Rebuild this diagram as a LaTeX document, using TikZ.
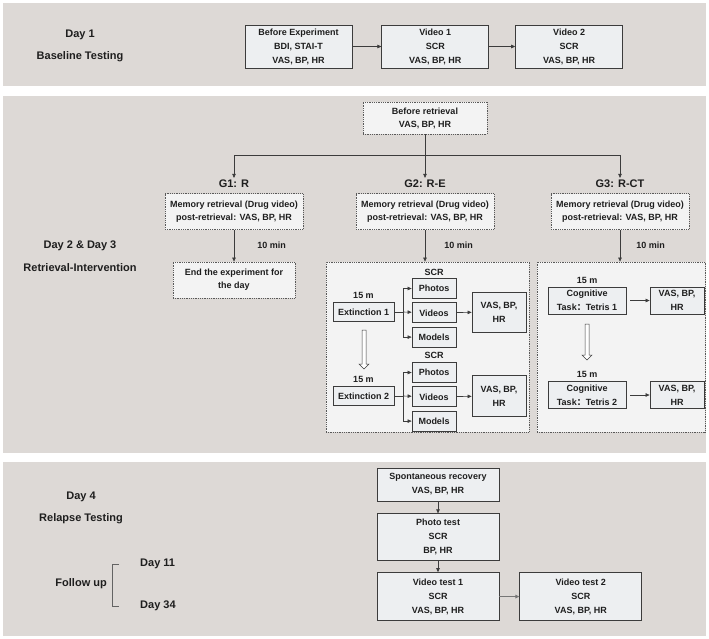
\documentclass[tikz,border=0pt]{standalone}
\usepackage{fontspec}
\setmainfont{Liberation Sans}
\newfontfamily\cjk{Noto Sans CJK SC}
\usetikzlibrary{arrows.meta, positioning, calc}
\definecolor{panelbg}{HTML}{DDD9D6}
\definecolor{boxfill}{HTML}{EDEFF1}
\definecolor{dotfill}{HTML}{F3F3F3}
\definecolor{edge}{HTML}{3C3C3C}
\definecolor{ink}{HTML}{1E1E1E}
\tikzset{
  panel/.style={fill=panelbg, draw=none},
  sbox/.style={rectangle, draw=edge, fill=boxfill, line width=0.8pt, inner sep=0pt,
               align=center, text=ink, font=\bfseries\fontsize{9}{14}\selectfont},
  dbox/.style={rectangle, draw=edge!85, densely dotted, fill=dotfill, line width=0.8pt,
               inner sep=0pt, align=center, text=ink, font=\bfseries\fontsize{9}{13}\selectfont},
  daylbl/.style={font=\bfseries\fontsize{11}{13}\selectfont, text=ink, inner sep=0pt},
  grplbl/.style={font=\bfseries\fontsize{11}{13}\selectfont, text=ink, inner sep=2pt},
  note/.style={font=\bfseries\fontsize{9}{11}\selectfont, text=ink, inner sep=1pt},
  arr/.style={-{Triangle[length=4pt, width=3.5pt]}, line width=0.6pt, draw=edge},
  link/.style={line width=0.6pt, draw=edge},
  brk/.style={line width=0.6pt, draw=edge!80},
  hollow/.style={draw=edge, fill=white, line width=0.5pt,
    to path={let \p1=(\tikztostart), \p2=(\tikztotarget) in
      (\x1-2pt,\y1) -- (\x1-2pt,\y2+5pt) -- (\x1-5pt,\y2+5pt) -- (\x2,\y2)
      -- (\x1+5pt,\y2+5pt) -- (\x1+2pt,\y2+5pt) -- (\x1+2pt,\y1) -- cycle}},
}

\begin{document}
\begin{tikzpicture}[x=1pt, y=-1pt]
  \useasboundingbox (0,0) rectangle (709,638);

  % Panels
  \fill[panel] (3,3) rectangle (706,86);
  \fill[panel] (3,96) rectangle (706,453);
  \fill[panel] (3,462) rectangle (706,636);

  % Day 1
  \node[daylbl] (day1) at (80,35) {Day 1};
  \node[daylbl] (day1t) at (80,57) {Baseline Testing};
  \node[sbox, minimum width=107pt, minimum height=43pt] (bexp) at (298.5,46.5)
    {Before Experiment\\BDI, STAI-T\\VAS, BP, HR};
  \node[sbox, minimum width=107pt, minimum height=43pt, right=29pt of bexp] (vid1)
    {Video 1\\SCR\\VAS, BP, HR};
  \node[sbox, minimum width=107pt, minimum height=43pt, right=26pt of vid1] (vid2)
    {Video 2\\SCR\\VAS, BP, HR};
  \draw[arr] (bexp) -- (vid1);
  \draw[arr] (vid1) -- (vid2);

  % Day 2 & Day 3
  \node[daylbl] (day23) at (80,246) {Day 2 \& Day 3};
  \node[daylbl] (day23t) at (80,268) {Retrieval-Intervention};
  \node[dbox, minimum width=124pt, minimum height=32pt] (bret) at (425,118)
    {Before retrieval\\VAS, BP, HR};
  \coordinate (split) at (425,155);
  \node[grplbl] (g1) at (234,184) {G1: R};
  \node[grplbl] (g2) at (425,184) {G2: R-E};
  \node[grplbl] (g3) at (620,184) {G3: R-CT};
  \draw[link] (bret) -- (split);
  \draw[arr] (split) -| (g1);
  \draw[arr] (split) -- (g2);
  \draw[arr] (split) -| (g3);

  \node[dbox, minimum width=138pt, minimum height=36pt] (mem1) at (234,211.5)
    {Memory retrieval (Drug video)\\post-retrieval: VAS, BP, HR};
  \node[dbox, minimum width=138pt, minimum height=36pt] (mem2) at (425,211.5)
    {Memory retrieval (Drug video)\\post-retrieval: VAS, BP, HR};
  \node[dbox, minimum width=138pt, minimum height=36pt] (mem3) at (620,211.5)
    {Memory retrieval (Drug video)\\post-retrieval: VAS, BP, HR};

  % G1
  \node[dbox, minimum width=122pt, minimum height=36pt] (endday) at (234,280)
    {End the experiment for\\the day};
  \draw[arr] (mem1) -- node[note, right=22pt] {10 min} (endday);

  % G2 - box in box
  \node[dbox, minimum width=203pt, minimum height=170pt] (extbox) at (427.5,347) {};
  \draw[arr] (mem2) -- node[note, right=18pt] {10 min} (mem2 |- extbox.north);

  \node[note] (scr1) at (434,272) {SCR};
  \node[sbox, minimum width=44pt, minimum height=20pt] (ph1) at (434,288.5) {Photos};
  \node[sbox, minimum width=44pt, minimum height=20pt, below=3.5pt of ph1] (vd1) {Videos};
  \node[sbox, minimum width=44pt, minimum height=20pt, below=3.5pt of vd1] (md1) {Models};
  \node[sbox, minimum width=61pt, minimum height=19pt] (ext1) at (363.5,312) {Extinction 1};
  \node[note, above=2pt of ext1] (len1) {15 m};
  \node[sbox, minimum width=54pt, minimum height=40pt] (vas1) at (499,312) {VAS, BP,\\HR};
  \coordinate (br1) at (403,312);
  \draw[link] (ext1) -- (br1);
  \draw[arr] (br1) |- (ph1);
  \draw[arr] (br1) -- (vd1);
  \draw[arr] (br1) |- (md1);
  \draw[arr] (vd1) -- (vas1);

  \coordinate (h1a) at (364,330);
  \coordinate (h1b) at (364,369);
  \draw[hollow] (h1a) to (h1b);

  \node[note] (scr2) at (434,355) {SCR};
  \node[sbox, minimum width=44pt, minimum height=20pt] (ph2) at (434,372.5) {Photos};
  \node[sbox, minimum width=44pt, minimum height=20pt, below=3.5pt of ph2] (vd2) {Videos};
  \node[sbox, minimum width=44pt, minimum height=20pt, below=3.5pt of vd2] (md2) {Models};
  \node[sbox, minimum width=61pt, minimum height=19pt] (ext2) at (363.5,396) {Extinction 2};
  \node[note, above=2pt of ext2] (len2) {15 m};
  \node[sbox, minimum width=54pt, minimum height=41pt] (vas2) at (499,396) {VAS, BP,\\HR};
  \coordinate (br2) at (403,396);
  \draw[link] (ext2) -- (br2);
  \draw[arr] (br2) |- (ph2);
  \draw[arr] (br2) -- (vd2);
  \draw[arr] (br2) |- (md2);
  \draw[arr] (vd2) -- (vas2);

  % G3 - box in box
  \node[dbox, minimum width=168pt, minimum height=170pt] (ctbox) at (621,347) {};
  \draw[arr] (mem3) -- node[note, right=15pt] {10 min} (mem3 |- ctbox.north);

  \node[sbox, minimum width=78pt, minimum height=27pt] (tet1) at (587,300.5)
    {Cognitive\\Task{\cjk ：}Tetris 1};
  \node[note, above=2pt of tet1] (len3) {15 m};
  \node[sbox, minimum width=54pt, minimum height=27pt] (vas3) at (677,300.5) {VAS, BP,\\HR};
  \draw[arr, shorten <=4pt] (tet1) -- (vas3);

  \coordinate (h2a) at (587,324);
  \coordinate (h2b) at (587,360);
  \draw[hollow] (h2a) to (h2b);

  \node[sbox, minimum width=78pt, minimum height=27pt] (tet2) at (587,395)
    {Cognitive\\Task{\cjk ：}Tetris 2};
  \node[note, above=2pt of tet2] (len4) {15 m};
  \node[sbox, minimum width=54pt, minimum height=27pt] (vas4) at (677,395) {VAS, BP,\\HR};
  \draw[arr, shorten <=4pt] (tet2) -- (vas4);

  % Day 4 and follow up
  \node[daylbl] (day4) at (81,497) {Day 4};
  \node[daylbl] (day4t) at (81,519) {Relapse Testing};
  \node[daylbl, anchor=east] (fup) at (107,584) {Follow up};
  \node[daylbl, anchor=west] (day11) at (140,564) {Day 11};
  \node[daylbl, anchor=west] (day34) at (140,606) {Day 34};
  \draw[brk] ([xshift=-21pt]day11.west) -- ++(-7pt,0) |- ([xshift=-21pt]day34.west);

  \node[sbox, minimum width=122pt, minimum height=33pt] (spont) at (438,484.5)
    {Spontaneous recovery\\VAS, BP, HR};
  \node[sbox, minimum width=122pt, minimum height=47pt, below=12pt of spont] (photo)
    {Photo test\\SCR\\BP, HR};
  \node[sbox, minimum width=122pt, minimum height=48pt, below=11pt of photo] (vtest1)
    {Video test 1\\SCR\\VAS, BP, HR};
  \node[sbox, minimum width=122pt, minimum height=48pt, right=20pt of vtest1] (vtest2)
    {Video test 2\\SCR\\VAS, BP, HR};
  \draw[arr] (spont) -- (photo);
  \draw[arr] (photo) -- (vtest1);
  \draw[arr, line width=1pt, draw=edge!70] (vtest1) -- (vtest2);
\end{tikzpicture}
\end{document}
